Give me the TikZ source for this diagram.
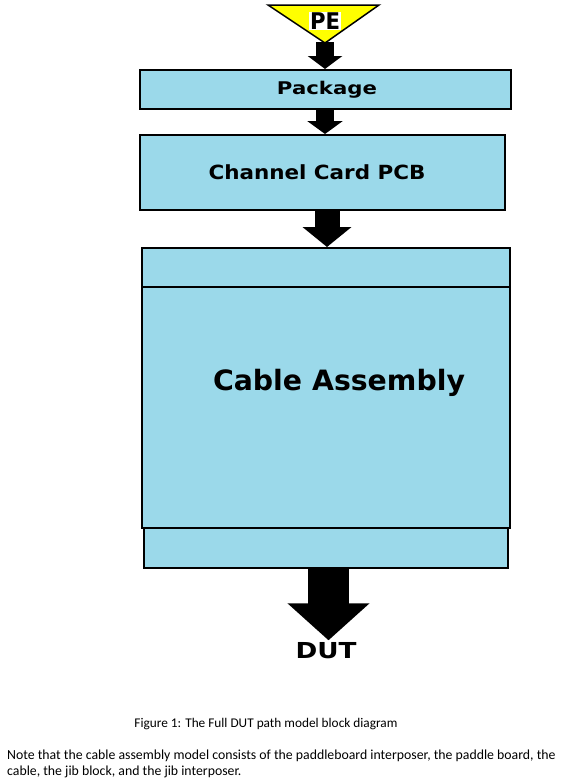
\documentclass[tikz,border=0pt]{standalone}
\usepackage{fontspec}
\usepackage{graphicx}
\setmainfont{Carlito}
\newfontfamily\boxfont{DejaVu Sans}
\usetikzlibrary{arrows.meta,positioning,calc}
\definecolor{boxblue}{RGB}{155,217,234}
\definecolor{peyellow}{RGB}{255,255,0}
\newcommand{\fitw}[3]{\resizebox{#1pt}{\height}{\boxfont\bfseries\fontsize{#2}{#2}\selectfont #3}}
\begin{document}
\begin{tikzpicture}[x=1pt,y=-1pt,
  blk/.style={draw=black,line width=2pt,fill=boxblue,rectangle,inner sep=0pt,anchor=north west},
  fatarrow/.style={line width=#1,draw=black},
]
\useasboundingbox (0,0) rectangle (586,779);
% blocks
\node[blk,minimum width=371pt,minimum height=39pt] (pkg) at (139,69) {};
\node[blk,minimum width=365pt,minimum height=75pt] (pcb) at (139,134) {};
\node[blk,minimum width=368pt,minimum height=39pt] (top) at (141,247) {};
\node[blk,minimum width=364pt,minimum height=40pt] (bot) at (143,527) {};
\node[blk,minimum width=368pt,minimum height=241pt] (cab) at (141,286) {};
% labels
\node (pkgt) at (327,90) {\fitw{100}{17.5}{Package}};
\node (pcbt) at (317,172) {\fitw{217}{19.5}{Channel Card PCB}};
\node (cabt) at (339,383) {\fitw{252}{28}{Cable Assembly}};
% PE triangle
\coordinate (apex) at (325,43);
\draw[fatarrow=18pt,-{Triangle[width=34pt,length=13pt]}] (325,42) -- (pkg.north -| apex);
\path[draw=black,line width=1.5pt,fill=peyellow] (268,5) -- (379,5) -- (apex) -- cycle;
\node[fill=white,inner sep=1pt] (pe) at (325,21) {\fitw{30}{23}{PE}};
% arrows
\coordinate (a3) at (327,0);
\coordinate (a4) at (328.5,0);
\draw[fatarrow=18pt,-{Triangle[width=35pt,length=13pt]}] (pkg.south -| apex) -- (pcb.north -| apex);
\draw[fatarrow=25pt,-{Triangle[width=48pt,length=20pt]}] (pcb.south -| a3) -- (top.north -| a3);
\node (dut) at (326,651) {\fitw{61}{22}{DUT}};
\draw[fatarrow=41pt,-{Triangle[width=80pt,length=37pt]}] (bot.south -| a4) -- ($(a4 |- dut.north)+(0,1)$);
% caption
\node[anchor=center,font=\fontsize{13.3}{15}\selectfont] (cap) at (266,724) {Figure 1: The Full DUT path model block diagram};
\node[anchor=north west,align=left,inner sep=0pt,font=\fontsize{13.8}{16}\selectfont] (note) at (7,750)
 {Note that the cable assembly model consists of the paddleboard interposer, the paddle board, the\\
  cable, the jib block, and the jib interposer.};
\end{tikzpicture}
\end{document}
